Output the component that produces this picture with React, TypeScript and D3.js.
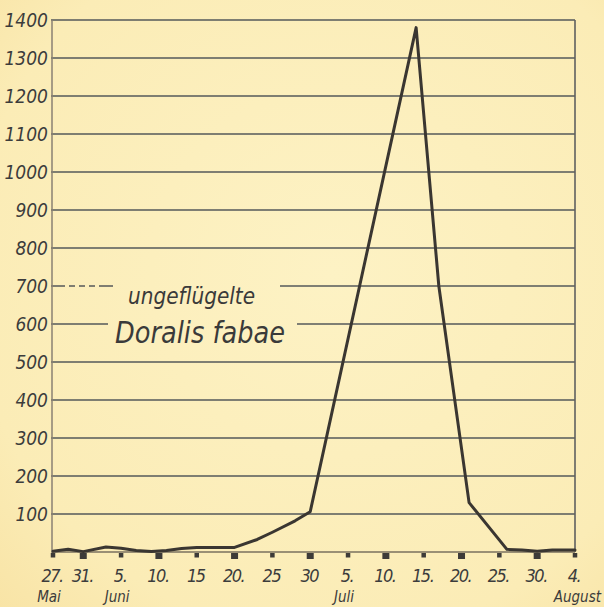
import * as d3 from "d3";

// observation dates (month-day) and counts of wingless Doralis fabae
const dates = ["05-27", "05-29", "05-31", "06-03", "06-05", "06-07", "06-09", "06-11", "06-13", "06-15", "06-18", "06-20", "06-23", "06-25", "06-28", "06-30", "07-14", "07-17", "07-21", "07-26", "07-28", "07-30", "08-01", "08-04"];
const counts = [2, 7, 1, 13, 10, 4, 1, 4, 9, 12, 12, 12, 33, 52, 82, 106, 1380, 700, 130, 7, 5, 2, 5, 5];

const tickDates = ["05-27", "05-31", "06-05", "06-10", "06-15", "06-20", "06-25", "06-30", "07-05", "07-10", "07-15", "07-20", "07-25", "07-30", "08-04"];
const tickLabels = ["27.", "31.", "5.", "10.", "15", "20.", "25", "30", "5.", "10.", "15.", "20.", "25.", "30.", "4."];

const monthNames = ["Mai", "Juni", "Juli", "August"];
const monthDates = ["05-27", "06-05", "07-05", "08-04"];

const yTicks = [100, 200, 300, 400, 500, 600, 700, 800, 900, 1000, 1100, 1200, 1300, 1400];

const W = 604;
const H = 607;
const margin = { top: 20, right: 29, bottom: 55, left: 53 };

const toDate = (md: string) => {
  const [m, d] = md.split("-").map(Number);
  return new Date(Date.UTC(1936, m - 1, d));
};

const ink = "#3a3631";
const gridColor = "#55585a";
const labelFont = "'DejaVu Sans Condensed', 'Liberation Sans Narrow', 'DejaVu Sans', sans-serif";

export default function App() {
  const x = d3
    .scaleUtc()
    .domain([toDate("05-27"), toDate("08-04")])
    .range([margin.left, W - margin.right]);
  const y = d3.scaleLinear().domain([0, 1400]).range([H - margin.bottom, margin.top]);

  const points = dates.map((d, i) => ({ date: toDate(d), value: counts[i] }));
  const line = d3
    .line<{ date: Date; value: number }>()
    .x((d) => x(d.date))
    .y((d) => y(d.value))
    .curve(d3.curveLinear);

  const x0 = margin.left;
  const x1 = W - margin.right;
  const yBase = y(0);

  // gaps in the 700 / 600 grid lines where the label sits
  const gaps: Record<number, [number, number]> = { 700: [117, 280], 600: [108, 297] };

  return (
    <svg width={W} height={H} style={{ position: "absolute", left: 0, top: 0 }}>
      <defs>
        <radialGradient id="paper" cx="55%" cy="45%" r="80%">
          <stop offset="0%" stopColor="#fdf2c4" />
          <stop offset="75%" stopColor="#fbecb6" />
          <stop offset="100%" stopColor="#f8e3a4" />
        </radialGradient>
      </defs>
      <rect width={W} height={H} fill="url(#paper)" />

      {/* horizontal grid lines */}
      {yTicks.map((t) => {
        const yy = y(t);
        const gap = gaps[t];
        if (gap) {
          return (
            <g key={t}>
              <line
                x1={x0 - 2}
                x2={gap[0]}
                y1={yy}
                y2={yy}
                stroke={gridColor}
                strokeWidth={1.6}
                strokeDasharray={t === 700 ? "14 4 6 4 6 4 6 4" : undefined}
              />
              <line x1={gap[1]} x2={x1} y1={yy} y2={yy} stroke={gridColor} strokeWidth={1.6} />
            </g>
          );
        }
        return <line key={t} x1={x0 - 2} x2={x1} y1={yy} y2={yy} stroke={gridColor} strokeWidth={1.6} />;
      })}

      {/* frame */}
      <line x1={x0 - 1} x2={x0 - 1} y1={y(1400)} y2={yBase + 2} stroke="#8a8173" strokeWidth={1.5} />
      <line x1={x1} x2={x1} y1={y(1400)} y2={yBase} stroke="#5f6060" strokeWidth={1.6} />
      <line x1={x0 - 1} x2={x1} y1={yBase} y2={yBase} stroke="#7a715f" strokeWidth={1.6} />

      {/* y labels */}
      {yTicks.map((t) => (
        <text
          key={t}
          x={x0 - 5}
          y={y(t) + 7}
          textAnchor="end"
          fontFamily={labelFont}
          fontStyle="italic"
          fontSize={19}
          fill="#3c3c3c"
        >
          {t}
        </text>
      ))}

      {/* x tick markers and labels */}
      {tickDates.map((d, i) => {
        const xx = x(toDate(d));
        const lab = tickLabels[i];
        const big = lab.startsWith("31") || lab.startsWith("10") || lab.startsWith("20") || lab.startsWith("30");
        const w = big ? 7 : 4.5;
        const h = big ? 6 : 4.5;
        return (
          <g key={d}>
            <rect x={xx - w / 2} y={yBase + 1} width={w} height={h} fill="#3d3b38" />
            <text
              x={xx - 1}
              y={582}
              textAnchor="middle"
              fontFamily={labelFont}
              fontStyle="italic"
              fontSize={18}
              letterSpacing={-1.5}
              fill="#3c3c3c"
            >
              {lab}
            </text>
          </g>
        );
      })}

      {/* month labels */}
      {monthNames.map((m, i) => {
        const xx = x(toDate(monthDates[i]));
        const last = i === monthNames.length - 1;
        return (
          <text
            key={m}
            x={last ? W - 3 : xx - 4}
            y={602}
            textAnchor={last ? "end" : "middle"}
            fontFamily={labelFont}
            fontStyle="italic"
            fontSize={15}
            fill="#3c3c3c"
          >
            {m}
          </text>
        );
      })}

      {/* data line */}
      <path
        d={line(points) ?? ""}
        fill="none"
        stroke={ink}
        strokeWidth={3}
        strokeLinejoin="round"
        strokeLinecap="round"
      />

      {/* label */}
      <text
        x={128}
        y={304}
        fontFamily="'DejaVu Sans', sans-serif"
        fontStyle="italic"
        fontSize={23}
        textLength={127}
        lengthAdjust="spacingAndGlyphs"
        fill="#3a3a3a"
      >
        ungeflügelte
      </text>
      <text
        x={115}
        y={343}
        fontFamily="'DejaVu Sans', sans-serif"
        fontStyle="italic"
        fontSize={31}
        textLength={170}
        lengthAdjust="spacingAndGlyphs"
        fill="#3a3a3a"
      >
        Doralis fabae
      </text>
    </svg>
  );
}
